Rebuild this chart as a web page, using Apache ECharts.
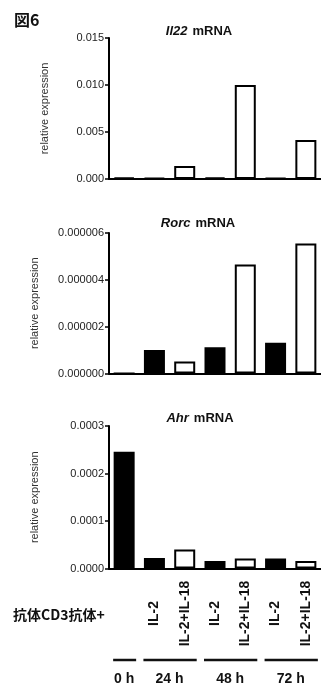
<!DOCTYPE html>
<html><head><meta charset="utf-8">
<script src="https://cdn.jsdelivr.net/npm/echarts@6/dist/echarts.min.js"></script>
<style>html,body{margin:0;padding:0;background:#fff}#c{width:321px;height:689px}</style>
</head><body><div id="c"></div>
<script>
const categories = ['0 h','24 h IL-2','24 h IL-2+IL-18','48 h IL-2','48 h IL-2+IL-18','72 h IL-2','72 h IL-2+IL-18'];
const treatments = ['', 'IL-2', 'IL-2+IL-18', 'IL-2', 'IL-2+IL-18', 'IL-2', 'IL-2+IL-18'];
const filled = [true, true, false, true, false, true, false];
const il22 = [0.00015, 0.00012, 0.00138, 0.00018, 0.0100, 0.00008, 0.00415];
const rorc = [0, 0.0000010, 0.00000051, 0.00000112, 0.00000466, 0.00000131, 0.00000555];
const ahr = [0.000246, 0.000022, 0.000040, 0.000016, 0.000021, 0.000021, 0.000016];
const timeGroups = ['0 h', '24 h', '48 h', '72 h'];
const groupFirst = [0, 1, 3, 5];
const groupLast = [0, 2, 4, 6];
const genes = ['Il22', 'Rorc', 'Ahr'];
const yMax = [0.015, 0.000006, 0.0003];
const yInterval = [0.005, 0.000002, 0.0001];
const yDecimals = [3, 6, 4];
const figLabel = '図6';
const rowLabel = '抗体CD3抗体+';
const yName = 'relative expression';

const FONT = '"Liberation Sans", Arial, Helvetica, sans-serif';
const CJK = '"Noto Sans CJK JP", "Liberation Sans", sans-serif';
const grids = [
  {left: 109, right: -2, top: 38, height: 141},
  {left: 109, right: -2, top: 233, height: 140.5},
  {left: 109, right: -2, top: 426, height: 142.5}
];
const titleTops = [17, 209, 404];
const titleLefts = [194, 193, 195];
const nameGaps = [59, 69, 69];
const seriesData = [il22, rorc, ahr];

const chart = echarts.init(document.getElementById('c'), null, {renderer: 'canvas'});
const option = {
  backgroundColor: '#fff',
  animation: false,
  title: genes.map((g, i) => ({
    text: '{i|' + g + '} {b|mRNA}',
    left: titleLefts[i], top: titleTops[i], textAlign: 'center',
    textStyle: {rich: {
      i: {fontFamily: FONT, fontSize: 13, fontWeight: 'bold', fontStyle: 'italic', color: '#111'},
      b: {fontFamily: FONT, fontSize: 13, fontWeight: 'bold', color: '#111'}
    }}
  })).concat([
    {text: figLabel, left: 9, top: 7, textStyle: {fontFamily: CJK, fontSize: 16, fontWeight: 'bold', color: '#111'}},
    {text: rowLabel, left: 8, top: 603, textStyle: {fontFamily: CJK, fontSize: 14, fontWeight: 'bold', color: '#111'}}
  ]),
  grid: grids,
  xAxis: grids.map((g, i) => ({
    type: 'category', gridIndex: i, data: categories,
    axisLine: {lineStyle: {color: '#000', width: 2}},
    axisTick: {alignWithLabel: true, length: 5, lineStyle: {color: '#000', width: 1.5}},
    axisLabel: i === 2 ? {
      show: true, interval: 0, rotate: 90, margin: 45, align: 'center', verticalAlign: 'middle',
      fontFamily: FONT, fontSize: 14, fontWeight: 'bold', color: '#111',
      formatter: (v, idx) => treatments[idx]
    } : {show: false},
    splitLine: {show: false}
  })),
  yAxis: grids.map((g, i) => ({
    type: 'value', gridIndex: i, min: 0, max: yMax[i], interval: yInterval[i],
    name: yName, nameLocation: 'middle', nameGap: nameGaps[i],
    nameTextStyle: {fontFamily: FONT, fontSize: 11, color: '#333'},
    axisLine: {show: true, lineStyle: {color: '#000', width: 2}},
    axisTick: {show: true, length: 4, lineStyle: {color: '#000', width: 1.5}},
    axisLabel: {fontFamily: FONT, fontSize: 11, color: '#222', margin: 5,
      formatter: v => v.toFixed(yDecimals[i])},
    splitLine: {show: false}
  })),
  series: seriesData.map((d, i) => ({
    type: 'bar', xAxisIndex: i, yAxisIndex: i, barWidth: 21,
    data: d.map((v, k) => ({value: v, itemStyle: {color: filled[k] ? '#000' : '#fff', borderColor: '#000', borderWidth: 2}}))
  }))
};
chart.setOption(option);

const graphics = [];
timeGroups.forEach((t, gi) => {
  const x0 = chart.convertToPixel({xAxisIndex: 2}, categories[groupFirst[gi]]);
  const x1 = chart.convertToPixel({xAxisIndex: 2}, categories[groupLast[gi]]);
  graphics.push({type: 'line', shape: {x1: x0 - 11, y1: 660, x2: x1 + 12, y2: 660}, style: {stroke: '#111', lineWidth: 2.5}});
  graphics.push({type: 'text', x: (x0 + x1) / 2, y: 679, style: {text: t, font: 'bold 14px ' + FONT, fill: '#111', textAlign: 'center', textVerticalAlign: 'middle'}});
});
chart.setOption({graphic: graphics});
</script></body></html>
